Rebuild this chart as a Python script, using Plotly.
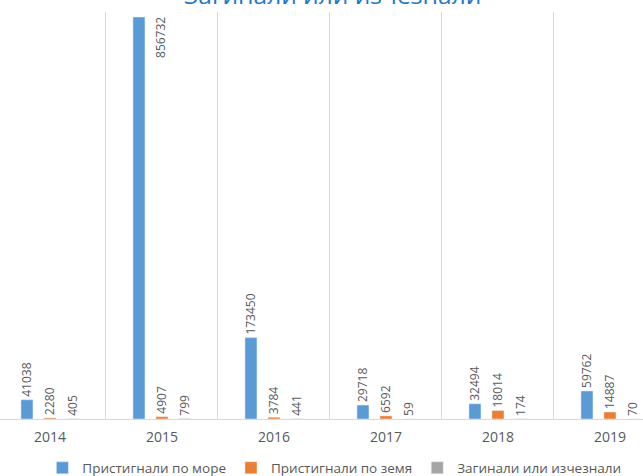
import plotly.graph_objects as go

years = ["2014", "2015", "2016", "2017", "2018", "2019"]
sea = [41038, 856732, 173450, 29718, 32494, 59762]
land = [2280, 4907, 3784, 6592, 18014, 14887]
dead = [405, 799, 441, 59, 174, 70]
names = ["Пристигнали по море", "Пристигнали по земя", "Загинали или изчезнали"]
colors = ["#5b9bd5", "#ed7d31", "#a5a5a5"]
title_text = "Загинали или изчезнали"

label_font = dict(family="Open Sans", size=12, color="#595959")
fig = go.Figure()
ymax = 867400
for name, vals, col in zip(names, [sea, land, dead], colors):
    pos = ["none" if v > 0.9 * ymax else "outside" for v in vals]
    fig.add_trace(go.Bar(
        x=years, y=vals, name=name, marker_color=col,
        text=[str(v) for v in vals], textposition=pos, textangle=-90,
        textfont=label_font, cliponaxis=False, constraintext="none",
    ))
    for i, v in enumerate(vals):
        if v > 0.9 * ymax:
            fig.add_annotation(x=i, y=v, text=str(v), textangle=-90, showarrow=False,
                               xshift=-12, yshift=2, yanchor="top", xanchor="left",
                               font=label_font)

fig.update_layout(
    width=643, height=476,
    margin=dict(l=0, r=0, t=12, b=57, autoexpand=False),
    paper_bgcolor="white", plot_bgcolor="white",
    barmode="group", bargap=0.384, bargroupgap=0.478,
    showlegend=True,
    legend=dict(orientation="h", x=0.52, xanchor="center",
                yref="container", y=8 / 476, yanchor="middle",
                font=dict(family="Open Sans", size=13.5, color="#595959"),
                itemwidth=30, traceorder="normal"),
    xaxis=dict(type="category", range=[-0.446, 5.295], tickson="boundaries",
               showgrid=True, gridcolor="#d9d9d9", gridwidth=1, automargin=False,
               showline=True, linecolor="#d9d9d9", ticks="", ticklabelstandoff=5,
               tickfont=dict(family="Open Sans", size=14, color="#595959")),
    yaxis=dict(range=[0, ymax], showticklabels=False, showgrid=False, zeroline=False,
               automargin=False),
    font=dict(family="Open Sans"),
)
fig.add_annotation(xref="paper", yref="paper", x=332 / 643, y=1, yshift=18,
                   xanchor="center", yanchor="middle", showarrow=False,
                   text=title_text, font=dict(family="Open Sans", size=24.5, color="#1f78c8"))

fig.write_html("out.html", config={"displayModeBar": False},
               post_script="document.body.style.margin='0';")
